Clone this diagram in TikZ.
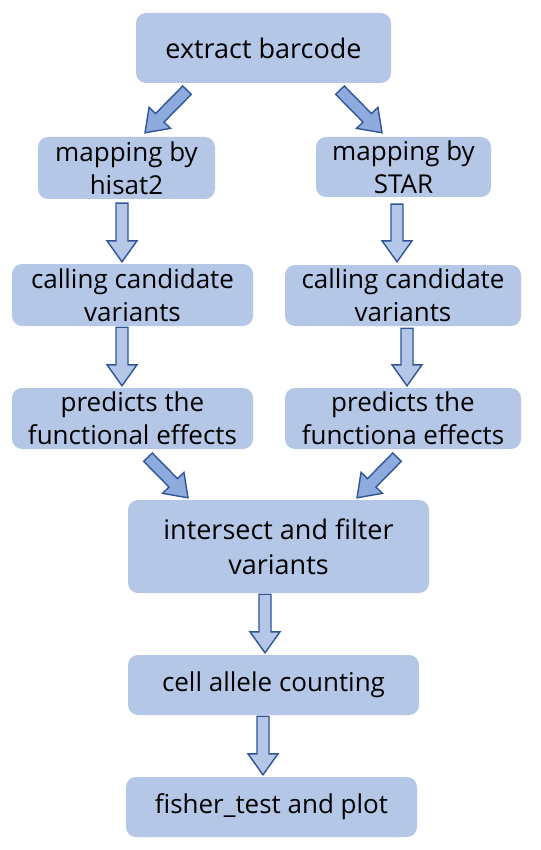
\documentclass[tikz,border=0pt]{standalone}
\usepackage{fontspec}
\setmainfont{Open Sans}
\usetikzlibrary{calc}
\definecolor{boxblue}{HTML}{B4C7E7}
\definecolor{darkarrow}{HTML}{8FAADC}
\definecolor{arrowline}{HTML}{2F5597}
\tikzset{
  stepbox/.style={fill=boxblue, rounded corners=10pt, align=center, inner sep=0pt,
    font=\fontsize{26}{33}\selectfont},
}
% block arrow from #2 to #3
\newcommand{\blockarrow}[3][boxblue]{%
  \coordinate (ba) at #2;
  \coordinate (bb) at #3;
  \coordinate (bc) at ($(bb)!21pt!(ba)$);
  \draw[line width=1.4pt, draw=arrowline, fill=#1]
    ($(ba)!6pt!90:(bb)$) -- ($(bc)!6pt!-90:(ba)$) -- ($(bc)!15pt!-90:(ba)$) -- (bb)
    -- ($(bc)!15pt!90:(ba)$) -- ($(bc)!6pt!90:(ba)$) -- ($(ba)!6pt!-90:(bb)$) -- cycle;
}
\begin{document}
\begin{tikzpicture}[x=1pt, y=-1pt]
  \useasboundingbox (0,0) rectangle (540,850);
  % Cajas
  \node[stepbox, minimum width=255pt, minimum height=70pt, font=\fontsize{27}{33}\selectfont] (extract) at (263.5,48) {extract barcode};
  \node[stepbox, minimum width=177pt, minimum height=62pt] (hisat) at (126.5,168) {mapping by\\hisat2};
  \node[stepbox, minimum width=175pt, minimum height=60pt] (star) at (403.5,167) {mapping by\\STAR};
  \node[stepbox, minimum width=241pt, minimum height=62pt] (callL) at (132.5,295) {calling candidate\\variants};
  \node[stepbox, minimum width=236pt, minimum height=61pt] (callR) at (403,295.5) {calling candidate\\variants};
  \node[stepbox, minimum width=241pt, minimum height=61pt] (predL) at (132.5,418.5) {predicts the\\functional effects};
  \node[stepbox, minimum width=236pt, minimum height=61pt] (predR) at (403,418.5) {predicts the\\functiona effects};
  \node[stepbox, minimum width=301pt, minimum height=93pt, font=\fontsize{27}{35}\selectfont] (filter) at (278.5,546.5) {intersect and filter\\variants};
  \node[stepbox, minimum width=291pt, minimum height=60pt] (count) at (273.5,685) {cell allele counting};
  \node[stepbox, minimum width=291pt, minimum height=60pt] (plot) at (271.5,807) {fisher\_test and plot};
  % Flechas
  \blockarrow[darkarrow]{($(extract.south)+(-76.5,7)$)}{($(hisat.north)+(18.5,-4)$)}
  \blockarrow[darkarrow]{($(extract.south)+(76.5,7)$)}{($(star.north)+(-21.5,-4)$)}
  \blockarrow{($(hisat.south)+(-4.5,4)$)}{($(callL.north)+(-10.5,-2)$)}
  \blockarrow{($(star.south)+(-6.5,7)$)}{($(callR.north)+(-6,-3)$)}
  \blockarrow{($(callL.south)+(-10.5,1)$)}{($(predL.north)+(-10.5,-2)$)}
  \blockarrow{($(callR.south)+(4,2)$)}{($(predR.north)+(4,-2)$)}
  \blockarrow[darkarrow]{($(predL.south)+(15.5,8)$)}{($(filter.north)+(-90.5,-2)$)}
  \blockarrow[darkarrow]{($(predR.south)+(-6,8)$)}{($(filter.north)+(78.5,-2)$)}
  \blockarrow{($(filter.south)+(-13.5,1)$)}{($(count.north)+(-8.5,-2)$)}
  \blockarrow{($(count.south)+(-10.5,1)$)}{($(plot.north)+(-8.5,-2)$)}
\end{tikzpicture}
\end{document}
